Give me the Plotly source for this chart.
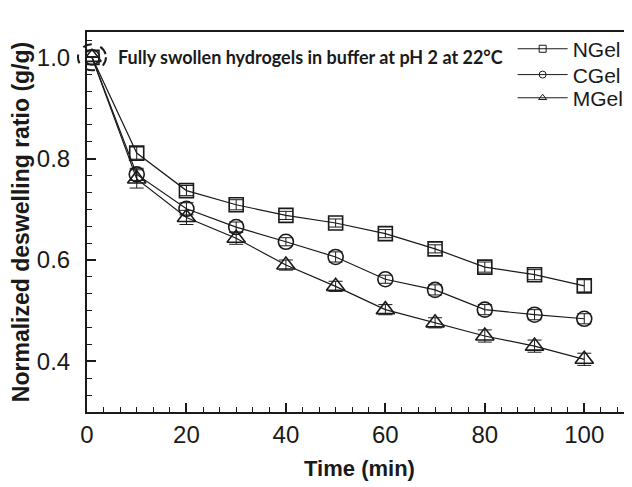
import plotly.graph_objects as go

time_min = [1, 10, 20, 30, 40, 50, 60, 70, 80, 90, 100]
ngel = [1.0, 0.811, 0.737, 0.709, 0.688, 0.673, 0.652, 0.622, 0.586, 0.571, 0.549]
cgel = [1.0, 0.769, 0.701, 0.665, 0.636, 0.606, 0.562, 0.541, 0.502, 0.492, 0.484]
mgel = [1.0, 0.760, 0.684, 0.643, 0.590, 0.548, 0.502, 0.476, 0.450, 0.430, 0.404]
ngel_err = [0.0, 0.012, 0.010, 0.010, 0.008, 0.008, 0.008, 0.008, 0.010, 0.010, 0.012]
cgel_err = [0.0, 0.012, 0.012, 0.010, 0.008, 0.010, 0.008, 0.010, 0.010, 0.010, 0.010]
mgel_err = [0.0, 0.018, 0.014, 0.012, 0.010, 0.010, 0.010, 0.010, 0.012, 0.012, 0.012]

names = ["NGel", "CGel", "MGel"]
series = [ngel, cgel, mgel]
errors = [ngel_err, cgel_err, mgel_err]
symbols = ["square-open", "circle-open", "triangle-up-open"]
sizes = [14, 15, 16]
legend_ids = ["legend", "legend2", "legend3"]
legend_y = [0.955, 0.887, 0.826]

X_RANGE = [0, 109.6]
Y_RANGE = [0.3, 1.05]

INK = "#1a1a1a"
fig = go.Figure()
for name, ys, err, sym, sz in zip(names, series, errors, symbols, sizes):
    fig.add_trace(go.Scatter(
        x=time_min, y=ys, mode="lines+markers", name=name, showlegend=False,
        line=dict(color=INK, width=1.2),
        marker=dict(symbol=sym, size=sz, color=INK, line=dict(width=1.6, color=INK)),
        error_y=dict(type="data", array=err, visible=True, color=INK, thickness=1, width=7),
    ))
for name, sym, lid in zip(names, symbols, legend_ids):
    fig.add_trace(go.Scatter(
        x=[None], y=[None], mode="lines+markers", name=name, legend=lid,
        line=dict(color=INK, width=1),
        marker=dict(symbol=sym, size=7, color=INK, line=dict(width=1, color=INK)),
    ))

# dashed circle around the starting point (paper coords so it is not clipped)
px = (time_min[0] - X_RANGE[0]) / (X_RANGE[1] - X_RANGE[0])
py = (ngel[0] - Y_RANGE[0]) / (Y_RANGE[1] - Y_RANGE[0])
fig.add_shape(type="circle", xref="paper", yref="paper", xsizemode="pixel", ysizemode="pixel",
              xanchor=px, yanchor=py, x0=-14, x1=14, y0=-13, y1=13,
              line=dict(color=INK, width=2, dash="dash"))
fig.add_annotation(x=0.053, y=ngel[0], xref="paper", yref="y", xanchor="left", yanchor="middle",
                   text="<b>Fully swollen hydrogels in buffer at pH 2 at 22°C</b>",
                   showarrow=False,
                   font=dict(family="Lato, sans-serif", size=18, color=INK))

legend_common = dict(xanchor="left", yanchor="middle", bgcolor="rgba(0,0,0,0)",
                     font=dict(size=21, color=INK), itemwidth=50)

# the page body has an 8px default margin, so the figure is 8px smaller than the window
fig.update_layout(
    width=624, height=479,
    margin=dict(l=79, r=0, t=24, b=75),
    paper_bgcolor="white", plot_bgcolor="white",
    font=dict(family="Liberation Sans, Arial, sans-serif", color=INK),
    legend=dict(x=0.781, y=legend_y[0], **legend_common),
    legend2=dict(x=0.781, y=legend_y[1], **legend_common),
    legend3=dict(x=0.781, y=legend_y[2], **legend_common),
    xaxis=dict(
        range=X_RANGE, tickmode="array", tickvals=[0, 20, 40, 60, 80, 100],
        ticks="inside", ticklen=9, tickwidth=1.5, tickcolor=INK,
        minor=dict(ticks="inside", ticklen=5, tickwidth=1.2, dtick=20/6, tickcolor=INK),
        showline=True, linewidth=2, linecolor=INK, mirror=True,
        showgrid=False, zeroline=False,
        tickfont=dict(size=24), ticklabelstandoff=0,
        title=dict(text="<b>Time (min)</b>", font=dict(size=22), standoff=14),
    ),
    yaxis=dict(
        range=Y_RANGE, tickmode="array", tickvals=[0.4, 0.6, 0.8, 1.0],
        ticktext=["0.4", "0.6", "0.8", "1.0"],
        ticks="inside", ticklen=9, tickwidth=1.5, tickcolor=INK,
        minor=dict(ticks="inside", ticklen=5, tickwidth=1.2, dtick=0.2/6, tickcolor=INK),
        showline=True, linewidth=2, linecolor=INK,
        showgrid=False, zeroline=False,
        tickfont=dict(size=24), ticklabelstandoff=10,
        title=dict(text="<b>Normalized deswelling ratio (g/g)</b>", font=dict(size=23), standoff=2),
    ),
)
fig.write_html("out.html")
